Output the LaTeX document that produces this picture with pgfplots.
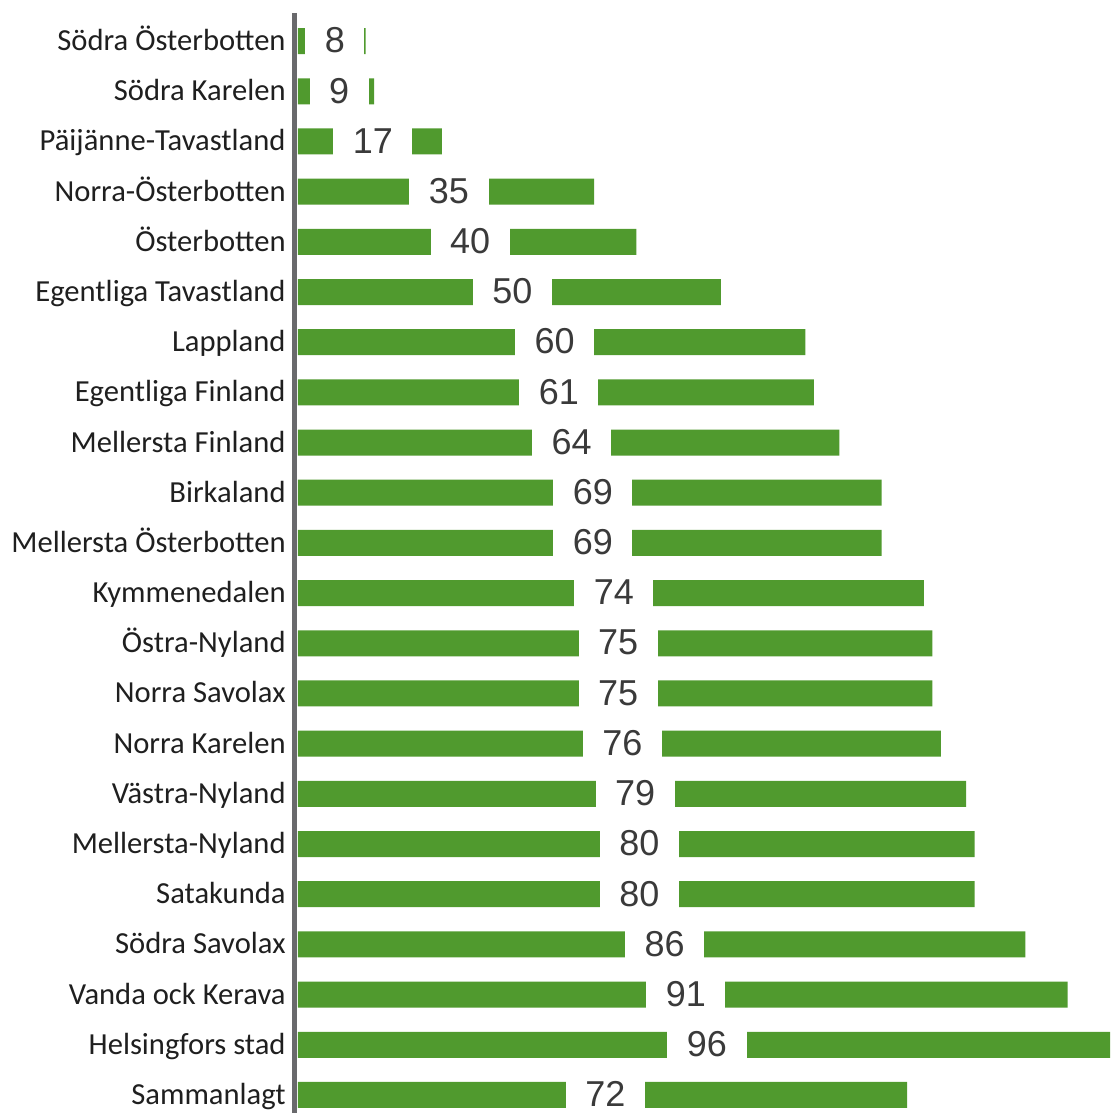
\documentclass[border=0pt]{standalone}
\usepackage{fontspec}
\usepackage{pgfplots}
\usepackage{pgfplotstable}
\pgfplotsset{compat=1.18}
\usetikzlibrary{calc}
\newfontfamily\catfont{Carlito}
\newfontfamily\numfont{Liberation Sans}
\definecolor{barg}{RGB}{80,154,46}
\definecolor{axg}{RGB}{105,105,108}
\definecolor{numg}{RGB}{58,58,58}
\pgfplotstableread{
idx v
0 8
1 9
2 17
3 35
4 40
5 50
6 60
7 61
8 64
9 69
10 69
11 74
12 75
13 75
14 76
15 79
16 80
17 80
18 86
19 91
20 96
21 72
}\data
\begin{document}
\begin{tikzpicture}
\begin{axis}[
  scale only axis, width=407.5pt, height=550pt,
  xmin=-0.35, xmax=96, ymin=-0.56, ymax=21.36,
  y dir=reverse,
  axis x line=none, axis y line*=left,
  y axis line style={draw=axg, line width=2.5pt},
  ytick={0,...,21},
  yticklabels={Södra Österbotten, Södra Karelen, Päijänne-Tavastland, Norra-Österbotten, Österbotten, Egentliga Tavastland, Lappland, Egentliga Finland, Mellersta Finland, Birkaland, Mellersta Österbotten, Kymmenedalen, Östra-Nyland, Norra Savolax, Norra Karelen, Västra-Nyland, Mellersta-Nyland, Satakunda, Södra Savolax, Vanda ock Kerava, Helsingfors stad, Sammanlagt},
  major tick length=0pt,
  yticklabel style={font=\catfont\fontsize{15.3}{17}\selectfont, text=black!88, inner sep=0pt, xshift=-4.5pt, yshift=-1.5pt, anchor=east, text height=0.75em, text depth=0.1em},
  clip=false,
]
\addplot[xbar, bar width=13pt, bar shift=0pt, fill=barg, draw=none] table[x=v, y=idx] {\data};
\addplot[draw=none, mark=none, point meta=explicit,
  nodes near coords={\pgfmathprintnumber[assume math mode=true,precision=0]{\pgfplotspointmeta}},
  every node near coord/.append style={anchor=center, fill=white, text=numg, inner xsep=9.75pt, inner ysep=2pt, xshift=1.5pt, yshift=0.3pt, font=\numfont\fontsize{18}{20}\selectfont}]
  table[x expr=\thisrow{v}/2, y=idx, meta=v] {\data};
\end{axis}
\pgfresetboundingbox
\path[use as bounding box] ($(current axis.south west)+(-147.5pt,0)$) rectangle ($(current axis.north east)+(0,6.5pt)$);
\end{tikzpicture}
\end{document}
